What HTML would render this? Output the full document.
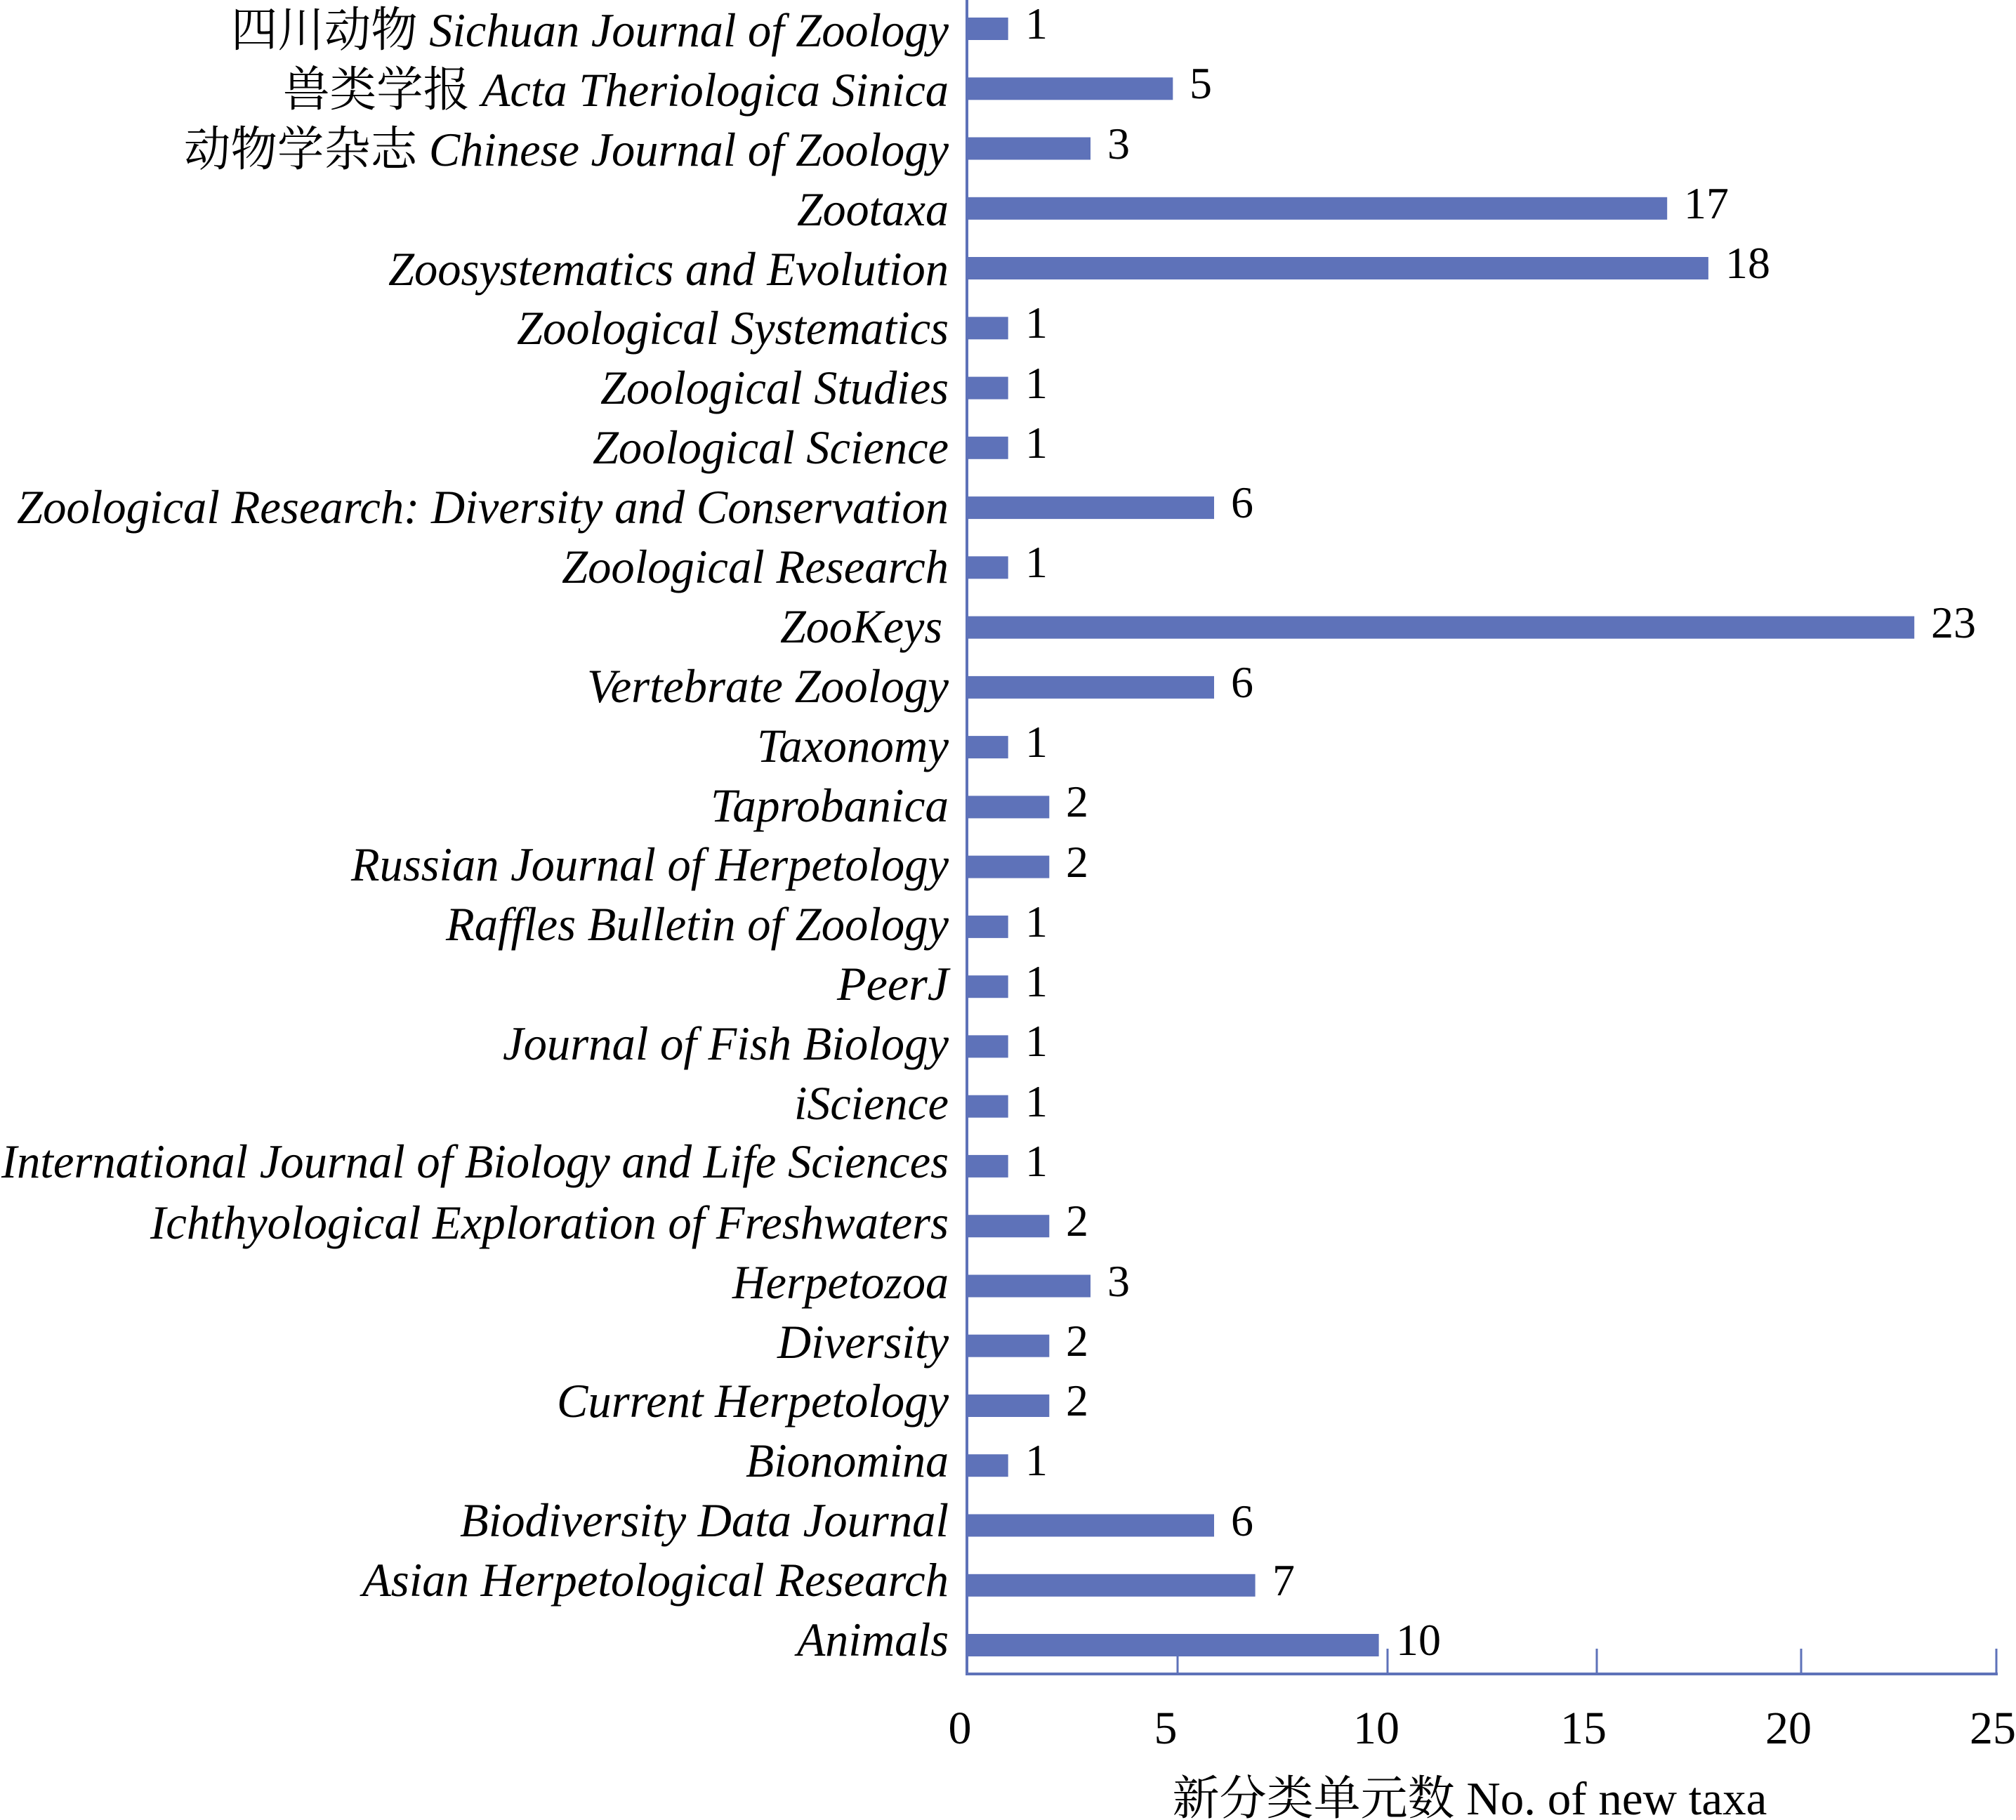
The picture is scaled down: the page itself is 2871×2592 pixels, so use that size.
<!DOCTYPE html>
<html><head><meta charset="utf-8"><style>body{margin:0;background:#fff}svg{display:block}
.v{font-family:"Liberation Serif",serif;font-size:64px}
.l{font-family:"Liberation Serif","Noto Serif CJK SC",serif;font-size:68px;font-style:italic;text-anchor:end}
.c{font-style:normal}
.t{font-family:"Liberation Serif",serif;font-size:66px;text-anchor:middle}
</style></head>
<body>
<svg width="2871" height="2592" xmlns="http://www.w3.org/2000/svg">
<g fill="#5e72b9">
<rect x="1377" y="25" width="58.7" height="32"/>
<rect x="1377" y="110.3" width="293.3" height="32"/>
<rect x="1377" y="195.5" width="176" height="32"/>
<rect x="1377" y="280.8" width="997.2" height="32"/>
<rect x="1377" y="366" width="1055.9" height="32"/>
<rect x="1377" y="451.3" width="58.7" height="32"/>
<rect x="1377" y="536.6" width="58.7" height="32"/>
<rect x="1377" y="621.8" width="58.7" height="32"/>
<rect x="1377" y="707.1" width="352" height="32"/>
<rect x="1377" y="792.3" width="58.7" height="32"/>
<rect x="1377" y="877.6" width="1349.2" height="32"/>
<rect x="1377" y="962.9" width="352" height="32"/>
<rect x="1377" y="1048.1" width="58.7" height="32"/>
<rect x="1377" y="1133.4" width="117.3" height="32"/>
<rect x="1377" y="1218.6" width="117.3" height="32"/>
<rect x="1377" y="1303.9" width="58.7" height="32"/>
<rect x="1377" y="1389.2" width="58.7" height="32"/>
<rect x="1377" y="1474.4" width="58.7" height="32"/>
<rect x="1377" y="1559.7" width="58.7" height="32"/>
<rect x="1377" y="1644.9" width="58.7" height="32"/>
<rect x="1377" y="1730.2" width="117.3" height="32"/>
<rect x="1377" y="1815.5" width="176" height="32"/>
<rect x="1377" y="1900.7" width="117.3" height="32"/>
<rect x="1377" y="1986" width="117.3" height="32"/>
<rect x="1377" y="2071.2" width="58.7" height="32"/>
<rect x="1377" y="2156.5" width="352" height="32"/>
<rect x="1377" y="2241.8" width="410.6" height="32"/>
<rect x="1377" y="2327" width="586.6" height="32"/>
</g>
<g class="v">
<text x="1460" y="55">1</text>
<text x="1694" y="140">5</text>
<text x="1577" y="226">3</text>
<text x="2398" y="311">17</text>
<text x="2457" y="396">18</text>
<text x="1460" y="481">1</text>
<text x="1460" y="567">1</text>
<text x="1460" y="652">1</text>
<text x="1753" y="737">6</text>
<text x="1460" y="822">1</text>
<text x="2750" y="908">23</text>
<text x="1753" y="993">6</text>
<text x="1460" y="1078">1</text>
<text x="1518" y="1163">2</text>
<text x="1518" y="1249">2</text>
<text x="1460" y="1334">1</text>
<text x="1460" y="1419">1</text>
<text x="1460" y="1504">1</text>
<text x="1460" y="1590">1</text>
<text x="1460" y="1675">1</text>
<text x="1518" y="1760">2</text>
<text x="1577" y="1846">3</text>
<text x="1518" y="1931">2</text>
<text x="1518" y="2016">2</text>
<text x="1460" y="2101">1</text>
<text x="1753" y="2187">6</text>
<text x="1812" y="2272">7</text>
<text x="1988" y="2357">10</text>
</g>
<g class="l" lengthAdjust="spacingAndGlyphs">
<text x="1351" y="66" textLength="1022" lengthAdjust="spacingAndGlyphs"><tspan class="c">四川动物 </tspan>Sichuan Journal of Zoology</text>
<text x="1351" y="151" textLength="948" lengthAdjust="spacingAndGlyphs"><tspan class="c">兽类学报 </tspan>Acta Theriologica Sinica</text>
<text x="1351" y="236" textLength="1089" lengthAdjust="spacingAndGlyphs"><tspan class="c">动物学杂志 </tspan>Chinese Journal of Zoology</text>
<text x="1351" y="321" textLength="216" lengthAdjust="spacingAndGlyphs">Zootaxa</text>
<text x="1351" y="406" textLength="798" lengthAdjust="spacingAndGlyphs">Zoosystematics and Evolution</text>
<text x="1351" y="490" textLength="615" lengthAdjust="spacingAndGlyphs">Zoological Systematics</text>
<text x="1351" y="575" textLength="496" lengthAdjust="spacingAndGlyphs">Zoological Studies</text>
<text x="1351" y="660" textLength="507" lengthAdjust="spacingAndGlyphs">Zoological Science</text>
<text x="1351" y="745" textLength="1327" lengthAdjust="spacingAndGlyphs">Zoological Research: Diversity and Conservation</text>
<text x="1351" y="830" textLength="551" lengthAdjust="spacingAndGlyphs">Zoological Research</text>
<text x="1342" y="915" textLength="231" lengthAdjust="spacingAndGlyphs">ZooKeys</text>
<text x="1351" y="1000" textLength="515" lengthAdjust="spacingAndGlyphs">Vertebrate Zoology</text>
<text x="1351" y="1085" textLength="273" lengthAdjust="spacingAndGlyphs">Taxonomy</text>
<text x="1351" y="1170" textLength="339" lengthAdjust="spacingAndGlyphs">Taprobanica</text>
<text x="1351" y="1254" textLength="851" lengthAdjust="spacingAndGlyphs">Russian Journal of Herpetology</text>
<text x="1351" y="1339" textLength="716" lengthAdjust="spacingAndGlyphs">Raffles Bulletin of Zoology</text>
<text x="1351" y="1424" textLength="159" lengthAdjust="spacingAndGlyphs">PeerJ</text>
<text x="1351" y="1509" textLength="635" lengthAdjust="spacingAndGlyphs">Journal of Fish Biology</text>
<text x="1351" y="1594" textLength="220" lengthAdjust="spacingAndGlyphs">iScience</text>
<text x="1351" y="1677" textLength="1349" lengthAdjust="spacingAndGlyphs">International Journal of Biology and Life Sciences</text>
<text x="1351" y="1764" textLength="1137" lengthAdjust="spacingAndGlyphs">Ichthyological Exploration of Freshwaters</text>
<text x="1351" y="1849" textLength="308" lengthAdjust="spacingAndGlyphs">Herpetozoa</text>
<text x="1351" y="1934" textLength="244" lengthAdjust="spacingAndGlyphs">Diversity</text>
<text x="1351" y="2018" textLength="558" lengthAdjust="spacingAndGlyphs">Current Herpetology</text>
<text x="1351" y="2103" textLength="289" lengthAdjust="spacingAndGlyphs">Bionomina</text>
<text x="1351" y="2188" textLength="696" lengthAdjust="spacingAndGlyphs">Biodiversity Data Journal</text>
<text x="1351" y="2273" textLength="835" lengthAdjust="spacingAndGlyphs">Asian Herpetological Research</text>
<text x="1351" y="2358" textLength="216" lengthAdjust="spacingAndGlyphs">Animals</text>
</g>
<g stroke="#5e72b9">
<line x1="1377" y1="0" x2="1377" y2="2386" stroke-width="4"/>
<line x1="1375" y1="2384" x2="2845" y2="2384" stroke-width="4"/>
<line x1="1677" y1="2348" x2="1677" y2="2384" stroke-width="3"/>
<line x1="1976" y1="2348" x2="1976" y2="2384" stroke-width="3"/>
<line x1="2274" y1="2348" x2="2274" y2="2384" stroke-width="3"/>
<line x1="2565" y1="2348" x2="2565" y2="2384" stroke-width="3"/>
<line x1="2843" y1="2348" x2="2843" y2="2384" stroke-width="3"/>
</g>
<g class="t">
<text x="1367" y="2483">0</text>
<text x="1660" y="2483">5</text>
<text x="1960" y="2483">10</text>
<text x="2255" y="2483">15</text>
<text x="2547" y="2483">20</text>
<text x="2838" y="2483">25</text>
</g>
<text x="2093" y="2584" text-anchor="middle" font-family="Liberation Serif,'Noto Serif CJK SC',serif" font-size="67">新分类单元数 No. of new taxa</text>
</svg>
</body></html>
